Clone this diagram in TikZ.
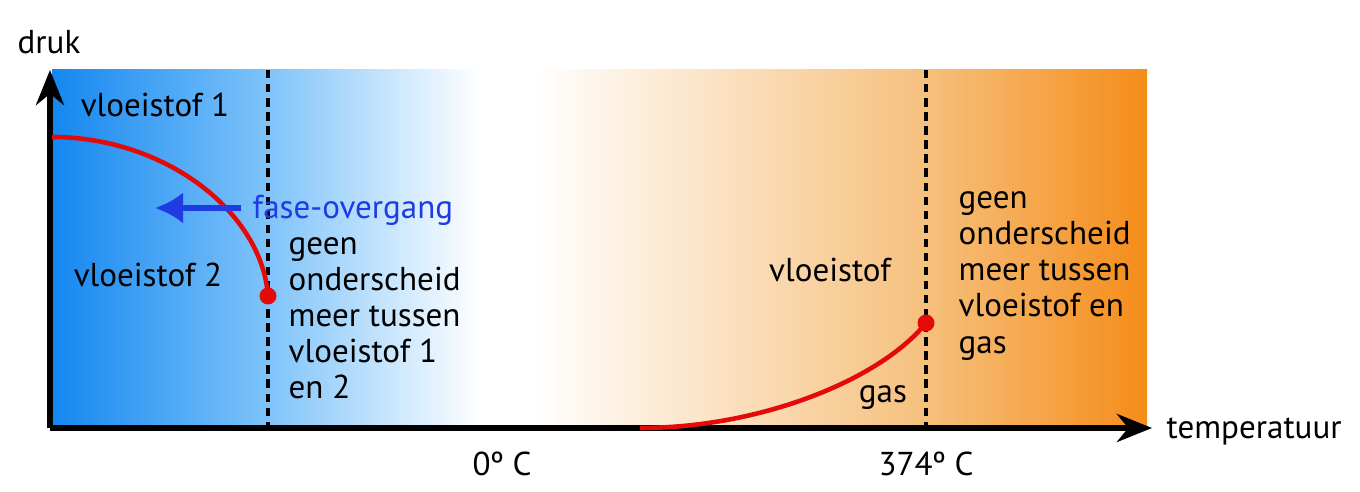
\documentclass[tikz,border=0pt]{standalone}
\usepackage{fontspec}
\setmainfont{PT Sans}
\usetikzlibrary{arrows.meta,positioning}
\definecolor{waterblue}{RGB}{20,135,240}
\definecolor{paleblue}{RGB}{128,196,250}
\definecolor{peach}{RGB}{246,192,125}
\definecolor{hotorange}{RGB}{245,140,25}
\definecolor{curvered}{RGB}{228,10,10}
\definecolor{arrowblue}{RGB}{30,60,225}
\tikzset{
  lbl/.style={font=\fontsize{9.4}{10.25}\selectfont, inner sep=0pt},
  blocklbl/.style={lbl, align=left, anchor=west},
  axisline/.style={line width=1.5pt, -{Stealth[length=10pt,width=8pt]}},
  critline/.style={dash pattern=on 2.4pt off 1.6pt, line width=1.2pt},
  phasecurve/.style={draw=curvered, line width=1.3pt},
  critpt/.style={circle, fill=curvered, minimum size=0.17cm, inner sep=0pt},
  shiftarrow/.style={draw=arrowblue, line width=1.6pt, -{Latex[length=8pt,width=9pt]}},
}

\begin{document}
\begin{tikzpicture}[x=0.01cm, y=-0.01cm]
\useasboundingbox (0,0) rectangle (1360,492);
% Background: cold (blue) to hot (orange)
\shade[left color=waterblue, right color=paleblue] (52,70) rectangle (270.5,428);
\shade[left color=paleblue, right color=white] (270,70) rectangle (480,428);
\shade[left color=white, right color=peach] (535,70) rectangle (926.5,428);
\shade[left color=peach, right color=hotorange] (926,70) rectangle (1147,428);
% Critical temperatures
\coordinate (crit1top) at (268,70);
\coordinate (crit1bot) at (268,428);
\coordinate (crit2top) at (926,70);
\coordinate (crit2bot) at (926,428);
\draw[critline] (crit1top) -- (crit1bot);
\draw[critline] (crit2top) -- (crit2bot);
% Axes
\coordinate (origin) at (50,428);
\coordinate (ytop) at (50,70);
\coordinate (xend) at (1152,428);
\draw[axisline] (origin) -- (ytop);
\draw[axisline] (origin) -- (xend);
\node[lbl] (druk) at (49,42) {druk};
\node[lbl, anchor=west] (temp) at (1166,432) {temperatuur};
\node[lbl] (zero) at (502,464) {0º C};
\node[lbl] (boil) at (926,464) {374º C};
% Phase boundaries
\coordinate (cp1) at (268,296);
\coordinate (cp2) at (926,323);
\coordinate (pstart1) at (52,137);
\coordinate (pstart2) at (640,428);
\draw[phasecurve] (pstart1) .. controls (165,137) and (262,212) .. (cp1);
\draw[phasecurve] (pstart2) .. controls (760,428) and (880,380) .. (cp2);
\node[critpt] (cp1dot) at (cp1) {};
\node[critpt] (cp2dot) at (cp2) {};
% Region labels
\node[lbl] (liq1) at (155,105) {vloeistof 1};
\node[lbl] (liq2) at (148,275) {vloeistof 2};
\node[lbl] (liq) at (830,270) {vloeistof};
\node[lbl] (gas) at (883,398) {gas};
\node[blocklbl] (note1) at (288,318) {geen\\onderscheid\\meer tussen\\vloeistof 1\\en 2};
\node[blocklbl] (note2) at (958,276) {geen\\onderscheid\\meer tussen\\vloeistof en\\gas};
% Phase transition
\node[lbl, text=arrowblue, anchor=west] (fase) at (252,210) {fase-overgang};
\coordinate (shiftend) at (155,208);
\draw[shiftarrow] ([xshift=-3pt]fase.west |- shiftend) -- (shiftend);
\end{tikzpicture}
\end{document}
